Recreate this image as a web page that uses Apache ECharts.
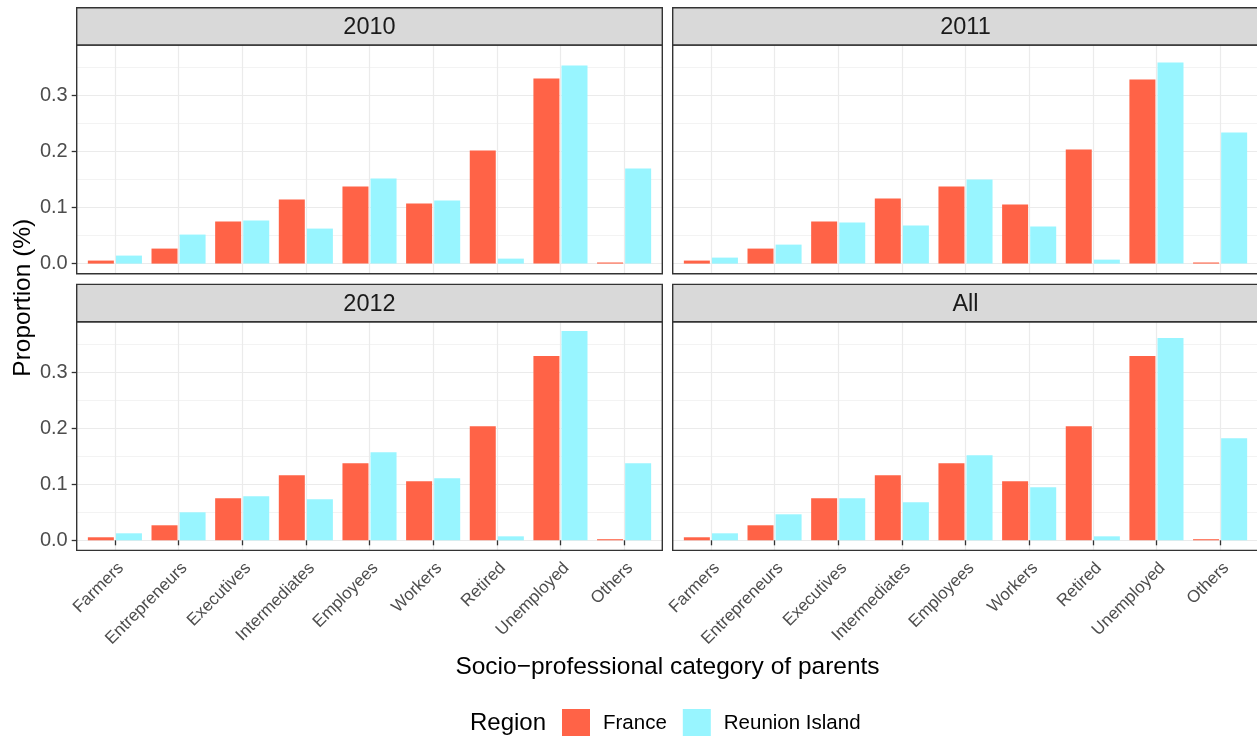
<!DOCTYPE html>
<html><head><meta charset="utf-8">
<script src="https://cdn.jsdelivr.net/npm/echarts@6/dist/echarts.min.js"></script>
<style>html,body{margin:0;padding:0;background:#fff}#chart{width:1257px;height:736px}</style>
</head><body><div id="chart"></div>
<script>
// ---------------- data ----------------
const categories = ['Farmers','Entrepreneurs','Executives','Intermediates','Employees','Workers','Retired','Unemployed','Others'];
const panelNames = ['2010','2011','2012','All'];
const regions = ['France','Reunion Island'];
const france2010  = [0.0054,0.0268,0.0750,0.1143,0.1375,0.1071,0.2018,0.3304,0.0020];
const reunion2010 = [0.0143,0.0518,0.0768,0.0625,0.1518,0.1125,0.0089,0.3536,0.1696];
const france2011  = [0.0054,0.0268,0.0750,0.1160,0.1375,0.1054,0.2036,0.3286,0.0020];
const reunion2011 = [0.0107,0.0339,0.0732,0.0679,0.1500,0.0661,0.0071,0.3589,0.2339];
const france2012  = [0.0054,0.0268,0.0750,0.1161,0.1375,0.1054,0.2036,0.3286,0.0020];
const reunion2012 = [0.0125,0.0500,0.0786,0.0732,0.1571,0.1107,0.0071,0.3732,0.1375];
const franceAll   = [0.0054,0.0268,0.0750,0.1161,0.1375,0.1054,0.2036,0.3286,0.0020];
const reunionAll  = [0.0125,0.0464,0.0750,0.0679,0.1518,0.0946,0.0071,0.3607,0.1821];
const yTicks = [0, 0.1, 0.2, 0.3];

// ---------------- layout ----------------
const FONT = '"Liberation Sans", Arial, Helvetica, sans-serif';
const PW = 585.6, PH = 228.7, STRIP = 37.3;
const colX = [76.7, 672.7];
const rowY = [45, 321.7];
const CAT = PW / 9.2;
const Y_MIN = -0.018, Y_MAX = 0.39;
const COL_F = '#FF6347', COL_R = '#98F5FF';

const franceSeries = [france2010, france2011, france2012, franceAll];
const reunionSeries = [reunion2010, reunion2011, reunion2012, reunionAll];

const grids = [], xAxes = [], yAxes = [], series = [], graphics = [];

for (let i = 0; i < 4; i++) {
  const col = i % 2, row = Math.floor(i / 2);
  grids.push({left: colX[col], top: rowY[row], width: PW, height: PH, outerBoundsMode: 'none', containLabel: false});
}
for (let i = 0; i < 4; i++) {
  const col = i % 2, row = Math.floor(i / 2);
  grids.push({left: colX[col] + 0.1 * CAT, top: rowY[row], width: PW - 0.2 * CAT, height: PH, outerBoundsMode: 'none', containLabel: false});
}
for (let i = 0; i < 4; i++) {
  const col = i % 2;
  xAxes.push({type: 'value', gridIndex: i, show: false, min: 0, max: 1});
  yAxes.push({
    type: 'value', gridIndex: i, min: Y_MIN, max: Y_MAX,
    axisLine: {show: false},
    axisTick: {show: col === 0, length: 5, customValues: yTicks, lineStyle: {color: '#333333', width: 1.3}},
    axisLabel: {show: col === 0, customValues: yTicks, formatter: v => v.toFixed(1), color: '#4D4D4D',
                fontSize: 20, fontFamily: FONT, margin: 9},
    splitLine: {show: true, lineStyle: {color: '#EBEBEB', width: 1.2}},
    minorTick: {show: false, splitNumber: 2},
    minorSplitLine: {show: true, lineStyle: {color: '#EEEEEE', width: 0.7}}
  });
}
for (let i = 0; i < 4; i++) {
  const row = Math.floor(i / 2);
  xAxes.push({
    type: 'category', gridIndex: 4 + i, data: categories,
    axisLine: {show: false},
    axisTick: {show: row === 1, alignWithLabel: true, interval: 0, length: 5, lineStyle: {color: '#333333', width: 1.3}},
    axisLabel: {show: row === 1, interval: 0, rotate: 45, align: 'right', verticalAlign: 'top', margin: 9,
                color: '#4D4D4D', fontSize: 17, fontFamily: FONT},
    splitLine: {show: true, interval: 0, alignWithLabel: true, lineStyle: {color: '#EBEBEB', width: 1.2}}
  });
  yAxes.push({type: 'value', gridIndex: 4 + i, min: Y_MIN, max: Y_MAX, show: false, splitLine: {show: false}});
  series.push({type: 'bar', name: regions[0], xAxisIndex: 4 + i, yAxisIndex: 4 + i, data: franceSeries[i],
               barWidth: 26, barGap: '8%', itemStyle: {color: COL_F}, silent: true});
  series.push({type: 'bar', name: regions[1], xAxisIndex: 4 + i, yAxisIndex: 4 + i, data: reunionSeries[i],
               barWidth: 26, barGap: '8%', itemStyle: {color: COL_R}, silent: true});
}

// panel frames, strips
for (let i = 0; i < 4; i++) {
  const col = i % 2, row = Math.floor(i / 2);
  const L = colX[col], T = rowY[row];
  graphics.push({type: 'rect', z: 100, silent: true, shape: {x: L, y: T, width: PW, height: PH},
                 style: {fill: 'none', stroke: '#333333', lineWidth: 1.4}});
  graphics.push({type: 'rect', z: 100, silent: true, shape: {x: L, y: T - STRIP, width: PW, height: STRIP},
                 style: {fill: '#D9D9D9', stroke: '#333333', lineWidth: 1.4}});
  graphics.push({type: 'text', z: 101, silent: true, x: L + PW / 2, y: T - STRIP / 2 + 1.5,
                 style: {text: panelNames[i], font: '23.5px ' + FONT, fill: '#1A1A1A', align: 'center', verticalAlign: 'middle'}});
}
// axis titles
graphics.push({type: 'text', silent: true, x: 23, y: (rowY[0] + rowY[1] + PH) / 2, rotation: Math.PI / 2,
               style: {text: 'Proportion (%)', font: '24.5px ' + FONT, fill: '#000', align: 'center', verticalAlign: 'middle'}});
graphics.push({type: 'text', silent: true, x: (colX[0] + colX[1] + PW) / 2, y: 667.5,
               style: {text: 'Socio\u2212professional category of parents', font: '24.5px ' + FONT, fill: '#000', align: 'center', verticalAlign: 'middle'}});
// legend title
graphics.push({type: 'text', silent: true, x: 470, y: 723,
               style: {text: 'Region', font: '24px ' + FONT, fill: '#000', align: 'left', verticalAlign: 'middle'}});

const chart = echarts.init(document.getElementById('chart'), null, {renderer: 'canvas'});
chart.setOption({
  animation: false,
  backgroundColor: '#FFFFFF',
  textStyle: {fontFamily: FONT},
  grid: grids,
  xAxis: xAxes,
  yAxis: yAxes,
  series: series,
  legend: {
    data: regions, left: 562, top: 709, orient: 'horizontal', padding: 0,
    itemWidth: 28, itemHeight: 28, itemGap: 16, icon: 'rect', selectedMode: false,
    textStyle: {fontSize: 20.5, color: '#000', fontFamily: FONT, padding: [0, 0, 0, 8]}
  },
  graphic: graphics
});
</script></body></html>
